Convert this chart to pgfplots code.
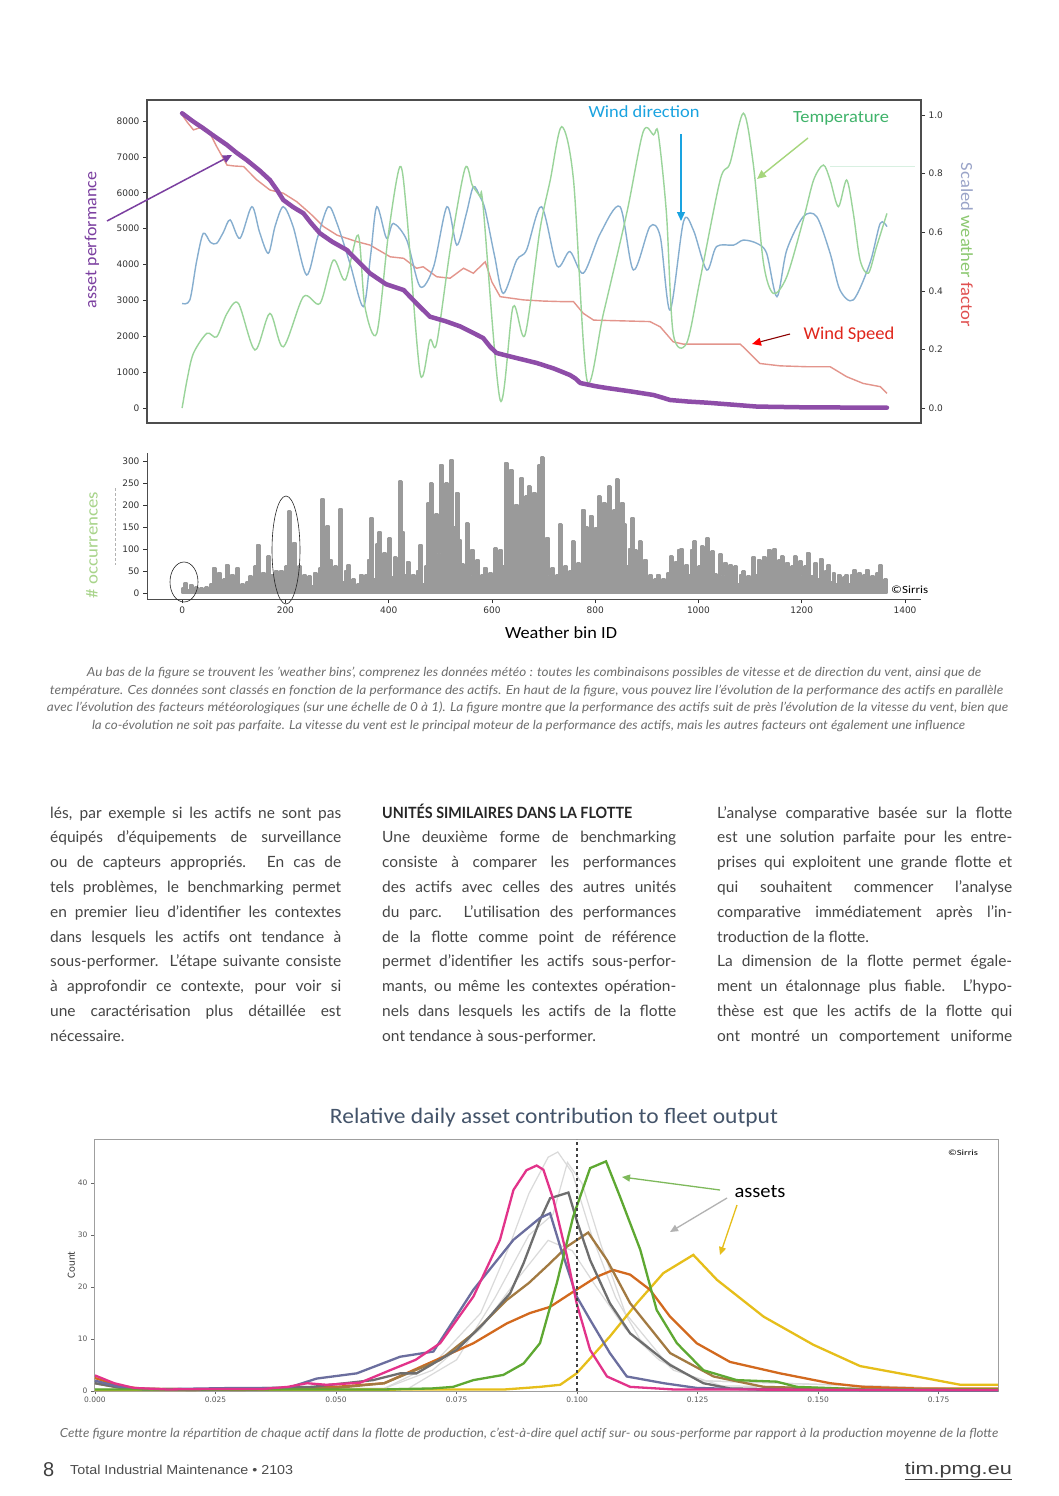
\documentclass[border=0pt]{standalone}
\usepackage{pgfplots}
\pgfplotsset{compat=1.18}
\usepackage{graphicx}
\usepackage{fontspec}
\usetikzlibrary{arrows.meta}
\setmainfont{Lato}
\newfontfamily\carlito{Carlito}
\newfontfamily\dejavu{DejaVu Sans}
\newfontfamily\libsans{Liberation Sans}
\definecolor{perf}{HTML}{8E4DA8}
\definecolor{perflab}{HTML}{7B3FA0}
\definecolor{histc}{HTML}{9A9A9A}
\definecolor{tickc}{HTML}{333333}
\definecolor{framec}{HTML}{4D4D4D}
\definecolor{windsp}{HTML}{E3958C}
\definecolor{winddir}{HTML}{86AECF}
\definecolor{temp}{HTML}{9AD49A}
\definecolor{wdlab}{HTML}{1AA3E0}
\definecolor{templab}{HTML}{3FB36A}
\definecolor{temparr}{HTML}{A6D67C}
\definecolor{wslab}{HTML}{E0261B}
\definecolor{scl}{HTML}{9AA4C8}
\definecolor{wel}{HTML}{8CC870}
\definecolor{fal}{HTML}{E05050}
\definecolor{occ}{HTML}{A8D48A}
\definecolor{bodyc}{HTML}{454545}
\definecolor{capc}{HTML}{6E6E6E}
\definecolor{titc}{HTML}{44546A}
\definecolor{cpink}{HTML}{E2338A}
\definecolor{cslate}{HTML}{6B6E9E}
\definecolor{cdgray}{HTML}{6E6E6E}
\definecolor{cbrown}{HTML}{A27A42}
\definecolor{corange}{HTML}{D2691E}
\definecolor{cgreen}{HTML}{5EA832}
\definecolor{cyellow}{HTML}{E6BE1A}
\definecolor{cfaint}{HTML}{DADADA}
\newcommand{\W}[2]{\resizebox{#1pt}{\height}{#2}}
\newsavebox\lb
\newcommand{\JL}[1]{\sbox\lb{#1}\ifdim\wd\lb>\hsize\hbox to\hsize{\resizebox{\hsize}{\height}{\usebox\lb}}\else\hbox to\hsize{#1}\fi}
\newcommand{\LL}[1]{\hbox{#1}}
\begin{document}
\begin{tikzpicture}
\useasboundingbox (0pt,0pt) rectangle (1058pt,-1496pt);
\fill[white] (0pt,0pt) rectangle (1058pt,-1496pt);

% ---------------- top chart: weather factors (right axis)
\begin{axis}[at={(147pt,-100pt)}, anchor=north west, scale only axis,
  width=774pt, height=323pt, xmin=-68, xmax=1431, ymin=-0.051, ymax=1.051,
  axis x line=none, axis y line*=right, xtick=\empty,
  ytick={0,0.2,0.4,0.6,0.8,1.0}, yticklabels={0.0,0.2,0.4,0.6,0.8,1.0},
  axis line style={-, draw=framec, line width=1.1pt},
  tick align=outside, major tick length=4pt, tick style={draw=tickc, line width=0.6pt},
  tick label style={font=\dejavu\fontsize{9pt}{10pt}\selectfont, color=tickc}]
\addplot[color=windsp, line width=1.4pt] coordinates {
(0,1.0)(10,0.975)(22,0.949)(41,0.96)(54,0.937)(67,0.892)(87,0.829)(100,0.826)(119,0.824)(145,0.778)(170,0.744)(196,0.733)(222,0.704)(248,0.664)(274,0.619)(300,0.590)(338,0.568)(364,0.556)(403,0.516)(429,0.511)(454,0.477)(467,0.482)(493,0.448)(519,0.443)(545,0.477)(564,0.460)(587,0.499)(600,0.43)(616,0.380)(661,0.369)(700,0.365)(739,0.363)(758,0.363)(777,0.323)(797,0.300)(906,0.295)(926,0.277)(951,0.226)(971,0.218)(1081,0.218)(1093,0.198)(1119,0.152)(1158,0.144)(1210,0.141)(1255,0.141)(1287,0.107)(1319,0.084)(1352,0.073)(1365,0.050)};
\addplot[color=winddir, line width=1.4pt, smooth] coordinates {
(0,0.357)(15,0.369)(28,0.50)(41,0.596)(55,0.565)(67,0.562)(80,0.60)(93,0.642)(112,0.579)(135,0.687)(150,0.60)(167,0.528)(180,0.62)(196,0.687)(215,0.619)(241,0.454)(262,0.58)(283,0.687)(300,0.630)(325,0.494)(351,0.346)(365,0.52)(377,0.687)(396,0.579)(409,0.630)(435,0.573)(461,0.414)(487,0.482)(513,0.687)(532,0.556)(550,0.66)(564,0.755)(577,0.721)(587,0.676)(605,0.52)(622,0.391)(648,0.505)(667,0.539)(696,0.687)(726,0.485)(751,0.534)(777,0.460)(810,0.596)(848,0.687)(874,0.471)(906,0.619)(926,0.585)(945,0.334)(971,0.636)(990,0.608)(1016,0.471)(1035,0.551)(1068,0.556)(1087,0.573)(1113,0.562)(1132,0.528)(1152,0.380)(1171,0.539)(1203,0.653)(1229,0.653)(1255,0.528)(1274,0.403)(1300,0.369)(1332,0.494)(1352,0.630)(1365,0.619)};
\addplot[color=temp, line width=1.4pt, smooth] coordinates {
(0,0.0)(10,0.10)(22,0.187)(48,0.255)(67,0.243)(87,0.323)(109,0.357)(141,0.198)(170,0.323)(196,0.209)(235,0.380)(267,0.357)(293,0.505)(316,0.437)(341,0.590)(354,0.346)(377,0.255)(400,0.60)(422,0.824)(435,0.664)(461,0.118)(480,0.232)(493,0.221)(520,0.55)(548,0.818)(562,0.76)(577,0.721)(583,0.687)(616,0.027)(641,0.346)(664,0.249)(693,0.608)(713,0.778)(735,0.960)(758,0.778)(784,0.096)(816,0.323)(861,0.664)(893,0.943)(913,0.932)(922,0.938)(938,0.664)(951,0.255)(977,0.221)(1003,0.437)(1042,0.778)(1061,0.835)(1087,1.006)(1106,0.835)(1126,0.494)(1145,0.391)(1171,0.448)(1203,0.642)(1223,0.778)(1242,0.829)(1255,0.778)(1271,0.687)(1287,0.778)(1300,0.664)(1313,0.505)(1329,0.460)(1345,0.551)(1365,0.664)};
\end{axis}

% ---------------- top chart: asset performance (left axis)
\begin{axis}[at={(147pt,-100pt)}, anchor=north west, scale only axis,
  width=774pt, height=323pt, xmin=-68, xmax=1431, ymin=-418, ymax=8585,
  xtick=\empty, ytick pos=left,
  ytick={0,1000,2000,3000,4000,5000,6000,7000,8000},
  yticklabels={0,1000,2000,3000,4000,5000,6000,7000,8000},
  axis line style={draw=framec, line width=1.1pt},
  tick align=outside, major tick length=4pt, tick style={draw=tickc, line width=0.6pt},
  tick label style={font=\dejavu\fontsize{9pt}{10pt}\selectfont, color=tickc}]
\addplot[color=perf, line width=4.5pt, line join=round, line cap=round] coordinates {
(0,8215)(20,8000)(41,7796)(60,7600)(87,7331)(105,7120)(125,6913)(150,6620)(170,6355)(185,6050)(196,5798)(215,5600)(235,5426)(250,5150)(267,4870)(290,4640)(319,4404)(340,4100)(364,3753)(395,3450)(429,3289)(455,2900)(480,2545)(510,2420)(538,2277)(560,2120)(583,1951)(597,1700)(609,1533)(640,1420)(687,1254)(720,1100)(751,920)(762,820)(771,697)(800,610)(822,558)(870,460)(913,362)(930,290)(945,223)(980,180)(1016,149)(1060,100)(1113,40)(1200,20)(1300,12)(1365,9)};
\end{axis}

% ---------------- histogram
\begin{axis}[at={(147pt,-453pt)}, anchor=north west, scale only axis,
  width=774pt, height=146pt, xmin=-68, xmax=1431, ymin=-14, ymax=318,
  axis x line*=bottom, axis y line*=left,
  axis line style={-, draw=framec, line width=1.0pt},
  xtick={0,200,400,600,800,1000,1200,1400},
  xticklabels={0,200,400,600,800,1000,1200,1400},
  ytick={0,50,100,150,200,250,300}, yticklabels={0,50,100,150,200,250,300},
  tick align=outside, major tick length=4pt, tick style={draw=tickc, line width=0.6pt},
  tick label style={font=\dejavu\fontsize{9pt}{10pt}\selectfont, color=tickc}]
\addplot[const plot, color=histc, fill=histc, line width=2.4pt, line join=round] coordinates {
(0,10)(5,22)(10,5)(15,18)(20,4)(25,12)(30,5)(35,10)(40,4)(45,12)
(50,5)(55,20)(60,56)(65,10)(70,45)(75,8)(80,30)(85,64)(90,10)(95,40)
(100,8)(105,56)(110,12)(115,20)(120,6)(125,25)(130,37)(135,10)(140,60)(145,109)
(150,15)(155,45)(160,20)(165,83)(170,40)(175,10)(180,50)(185,15)(190,50)(195,20)
(200,60)(205,185)(210,30)(215,113)(220,15)(225,60)(230,20)(235,40)(240,10)(245,37)
(250,15)(255,45)(260,10)(265,55)(270,213)(275,30)(280,152)(285,75)(290,25)(295,60)
(300,20)(305,190)(310,25)(315,50)(320,64)(325,10)(330,30)(335,8)(340,20)(345,41)
(350,10)(355,40)(360,75)(365,170)(370,30)(375,110)(380,139)(385,40)(390,90)(395,30)
(400,124)(405,35)(410,80)(415,30)(420,253)(425,139)(430,40)(435,70)(440,30)(445,40)
(450,15)(455,50)(460,109)(465,20)(470,60)(475,204)(480,249)(485,70)(490,178)(495,90)
(500,291)(505,120)(510,249)(515,160)(520,302)(525,150)(530,227)(535,120)(540,65)(545,30)
(550,158)(555,40)(560,98)(565,30)(570,75)(575,20)(580,40)(585,56)(590,15)(595,45)
(600,20)(605,101)(610,40)(615,98)(620,60)(625,295)(630,257)(635,280)(640,120)(645,200)
(650,150)(655,261)(660,140)(665,219)(670,242)(675,130)(680,227)(685,150)(690,291)(695,308)
(700,40)(705,125)(710,40)(715,56)(720,15)(725,40)(730,155)(735,30)(740,60)(745,20)
(750,50)(755,117)(760,30)(765,67)(770,20)(775,189)(780,150)(785,120)(790,175)(795,100)
(800,147)(805,219)(810,130)(815,204)(820,150)(825,242)(830,120)(835,187)(840,258)(845,150)
(850,204)(855,155)(860,60)(865,100)(870,170)(875,98)(880,50)(885,117)(890,40)(895,75)
(900,20)(905,40)(910,10)(915,30)(920,40)(925,10)(930,32)(935,15)(940,45)(945,83)
(950,30)(955,70)(960,98)(965,100)(970,30)(975,64)(980,40)(985,98)(990,117)(995,38)
(1000,60)(1005,105)(1010,40)(1015,124)(1020,60)(1025,94)(1030,43)(1035,30)(1040,87)(1045,40)
(1050,68)(1055,25)(1060,64)(1065,30)(1070,60)(1075,20)(1080,40)(1085,49)(1090,15)(1095,38)
(1100,30)(1105,81)(1110,40)(1115,75)(1120,34)(1125,81)(1130,50)(1135,98)(1140,60)(1145,100)
(1150,40)(1155,75)(1160,83)(1165,40)(1170,68)(1175,30)(1180,60)(1185,83)(1190,35)(1195,71)
(1200,40)(1205,60)(1210,90)(1215,38)(1220,38)(1225,68)(1230,30)(1235,77)(1240,35)(1245,50)
(1250,64)(1255,25)(1260,45)(1265,20)(1270,41)(1275,25)(1280,35)(1285,41)(1290,20)(1295,40)
(1300,52)(1305,25)(1310,45)(1315,30)(1320,40)(1325,52)(1330,25)(1335,38)(1340,30)(1345,45)
(1350,62)(1355,25)(1360,30)(1365,23)} \closedcycle;
\end{axis}

% ---------------- top chart annotations
\node[rotate=90, text=perflab, inner sep=0] at (92pt,-240pt) {\carlito\fontsize{17pt}{20pt}\selectfont\W{136}{asset performance}};
\node[rotate=-90, inner sep=0] at (967pt,-245pt) {\carlito\fontsize{17pt}{20pt}\selectfont\W{164}{\textcolor{scl}{Scaled} \textcolor{wel}{weather} \textcolor{fal}{factor}}};
\node[text=wdlab, inner sep=0] at (644pt,-112pt) {\carlito\fontsize{17pt}{20pt}\selectfont\W{111}{Wind direction}};
\node[text=templab, inner sep=0] at (841pt,-118pt) {\carlito\fontsize{17pt}{20pt}\selectfont\W{96}{Temperature}};
\node[text=wslab, inner sep=0] at (849pt,-335pt) {\carlito\fontsize{18pt}{20pt}\selectfont\W{91}{Wind Speed}};
\draw[perflab, line width=1.5pt, -{Triangle[length=9pt,width=8pt]}] (107pt,-221pt) -- (232pt,-155pt);
\draw[wdlab, line width=1.1pt, -{Triangle[length=9pt,width=8pt]}] (681pt,-134pt) -- (681pt,-221pt);
\draw[temparr, line width=1.4pt, -{Triangle[length=9pt,width=8pt]}] (808pt,-138pt) -- (757pt,-179pt);
\draw[red!55!black, line width=1.1pt, -{Triangle[length=9pt,width=8pt,color=red]}] (790pt,-334pt) -- (752pt,-344pt);
\draw[templab!20!white, line width=0.6pt] (830pt,-166pt) -- (915pt,-166pt);

% ---------------- histogram annotations
\draw[black!85, line width=0.6pt] (184pt,-582pt) ellipse (14pt and 20pt);
\draw[black!85, line width=0.6pt] (286pt,-550pt) ellipse (14pt and 54pt);
\draw[gray!60, densely dashed, line width=0.5pt] (115pt,-488pt) -- (115pt,-565pt);
\node[rotate=90, text=occ, inner sep=0] at (92pt,-545pt) {\carlito\fontsize{17pt}{20pt}\selectfont\W{106}{\# occurrences}};
\node[anchor=west, inner sep=0] at (891pt,-590pt) {\carlito\fontsize{11pt}{13pt}\selectfont\W{37}{©Sirris}};
\node[inner sep=0] at (561pt,-633pt) {\carlito\fontsize{17pt}{20pt}\selectfont\W{112}{Weather bin ID}};

% ---------------- captions
\begin{scope}[every node/.style={inner sep=0, anchor=base, text=capc, font=\itshape\fontsize{12.5pt}{14pt}\selectfont}]
\node at (534pt,-676pt) {\W{894}{Au bas de la figure se trouvent les 'weather bins', comprenez les données météo : toutes les combinaisons possibles de vitesse et de direction du vent, ainsi que de}};
\node at (526.5pt,-694pt) {\W{953}{température. Ces données sont classés en fonction de la performance des actifs. En haut de la figure, vous pouvez lire l'évolution de la performance des actifs en parallèle}};
\node at (527.5pt,-711pt) {\W{961}{avec l'évolution des facteurs météorologiques (sur une échelle de 0 à 1). La figure montre que la performance des actifs suit de près l'évolution de la vitesse du vent, bien que}};
\node at (528.5pt,-729pt) {\W{873}{la co-évolution ne soit pas parfaite. La vitesse du vent est le principal moteur de la performance des actifs, mais les autres facteurs ont également une influence}};
\node at (529pt,-1437pt) {\W{938}{Cette figure montre la répartition de chaque actif dans la flotte de production, c'est-à-dire quel actif sur- ou sous-performe par rapport à la production moyenne de la flotte}};
\end{scope}

% ---------------- body text columns
\node[anchor=base west, inner sep=0, text=bodyc] at (50pt,-818pt) {\vtop{\fontsize{15.5pt}{24.8pt}\selectfont\hsize=291pt\baselineskip=24.8pt
\JL{lés, par exemple si les actifs ne sont pas}
\JL{équipés d'équipements de surveillance}
\JL{ou de capteurs appropriés. En cas de}
\JL{tels problèmes, le benchmarking permet}
\JL{en premier lieu d'identifier les contextes}
\JL{dans lesquels les actifs ont tendance à}
\JL{sous-performer. L'étape suivante consiste}
\JL{à approfondir ce contexte, pour voir si}
\JL{une caractérisation plus détaillée est}
\LL{nécessaire.}}};

\node[anchor=base west, inner sep=0, text=bodyc] at (382pt,-818pt) {\vtop{\fontsize{15.5pt}{24.8pt}\selectfont\hsize=294pt\baselineskip=24.8pt
\LL{\color{black!85}\W{250}{\bfseries UNITÉS SIMILAIRES DANS LA FLOTTE}}
\JL{Une deuxième forme de benchmarking}
\JL{consiste à comparer les performances}
\JL{des actifs avec celles des autres unités}
\JL{du parc. L'utilisation des performances}
\JL{de la flotte comme point de référence}
\JL{permet d'identifier les actifs sous-perfor-}
\JL{mants, ou même les contextes opération-}
\JL{nels dans lesquels les actifs de la flotte}
\LL{ont tendance à sous-performer.}}};

\node[anchor=base west, inner sep=0, text=bodyc] at (717pt,-818pt) {\vtop{\fontsize{15.5pt}{24.8pt}\selectfont\hsize=295pt\baselineskip=24.8pt
\JL{L'analyse comparative basée sur la flotte}
\JL{est une solution parfaite pour les entre-}
\JL{prises qui exploitent une grande flotte et}
\JL{qui souhaitent commencer l'analyse}
\JL{comparative immédiatement après l'in-}
\LL{troduction de la flotte.}
\JL{La dimension de la flotte permet égale-}
\JL{ment un étalonnage plus fiable. L'hypo-}
\JL{thèse est que les actifs de la flotte qui}
\JL{ont montré un comportement uniforme}}};

% ---------------- bottom chart
\node[inner sep=0, text=titc] at (554pt,-1118pt) {\carlito\fontsize{22pt}{26pt}\selectfont\W{448}{Relative daily asset contribution to fleet output}};
\begin{axis}[at={(94pt,-1139pt)}, anchor=north west, scale only axis,
  width=904pt, height=252pt, xmin=-0.0002, xmax=0.1873, ymin=0, ymax=48.5,
  axis line style={draw=gray!75, line width=0.9pt},
  tick pos=left, tick align=outside, major tick length=3pt, tick style={draw=gray!80!black, line width=0.5pt},
  xtick={0,0.025,0.05,0.075,0.1,0.125,0.15,0.175},
  xticklabels={0.000,0.025,0.050,0.075,0.100,0.125,0.150,0.175},
  ytick={0,10,20,30,40}, yticklabels={0,10,20,30,40},
  tick label style={font=\dejavu\fontsize{7.5pt}{8.5pt}\selectfont, color=black!65},
  xticklabel style={yshift=1pt},
  ylabel={\carlito\fontsize{11pt}{12pt}\selectfont Count}, ylabel style={color=black!75, yshift=-4pt}]
\addplot[color=cfaint, line width=1.2pt] coordinates {(0,0.3)(0.06,0.5)(0.07,5)(0.08,15)(0.086,28)(0.09,38)(0.094,45)(0.096,46)(0.099,42)(0.103,30)(0.108,18)(0.113,10)(0.12,4)(0.13,1)(0.1873,0.2)};
\addplot[color=cfaint, line width=1.2pt] coordinates {(0,0.3)(0.065,0.5)(0.075,6)(0.083,18)(0.09,30)(0.095,34)(0.098,44)(0.101,40)(0.105,28)(0.11,15)(0.118,6)(0.125,2)(0.1873,0.2)};
\addplot[color=cfaint, line width=1.2pt] coordinates {(0,0.3)(0.06,0.5)(0.07,4)(0.08,12)(0.088,22)(0.094,29)(0.099,27)(0.104,20)(0.11,12)(0.117,6)(0.125,2)(0.1873,0.2)};
\addplot[color=cyellow, line width=2.3pt] coordinates {(0,0.2)(0.085,0.3)(0.0923,0.8)(0.0965,1.2)(0.0999,3.4)(0.1068,10.5)(0.1124,16.9)(0.1179,22.7)(0.1241,26.2)(0.129,21.4)(0.1387,14.3)(0.149,8.9)(0.1587,4.8)(0.1698,2.9)(0.1795,1.2)(0.1873,1.2)};
\addplot[color=corange, line width=2.3pt] coordinates {(0,2.5)(0.005,1.0)(0.01,0.4)(0.03,0.3)(0.05,0.8)(0.06,1.5)(0.0785,9.2)(0.0854,13.0)(0.0902,15.0)(0.0923,15.6)(0.0944,16.2)(0.0992,19.1)(0.1041,22.0)(0.1075,23.3)(0.111,22.4)(0.1151,19.5)(0.1193,14.3)(0.1248,9.2)(0.1317,5.6)(0.1421,3.4)(0.1525,1.5)(0.1594,0.8)(0.17,0.5)(0.1873,0.5)};
\addplot[color=cbrown, line width=2.3pt] coordinates {(0,1.5)(0.006,0.5)(0.03,0.2)(0.05,0.6)(0.06,1.5)(0.0716,6.0)(0.0785,11.1)(0.0854,17.5)(0.090,20.8)(0.0944,24.6)(0.0979,27.8)(0.1023,30.5)(0.1062,25.2)(0.111,16.9)(0.1193,7.3)(0.1283,2.8)(0.1387,0.8)(0.16,0.3)(0.1873,0.2)};
\addplot[color=cdgray, line width=2.3pt] coordinates {(0,1.5)(0.006,0.5)(0.02,0.2)(0.045,0.8)(0.0577,2.1)(0.0633,3.4)(0.0667,3.4)(0.075,7.9)(0.0806,13.0)(0.0861,18.8)(0.0889,24.6)(0.0923,32.9)(0.0944,37.1)(0.0982,38.2)(0.0999,32.9)(0.1027,25.2)(0.1068,16.9)(0.111,11.1)(0.1193,5.0)(0.1262,1.5)(0.1317,0.5)(0.15,0.2)(0.1873,0.1)};
\addplot[color=cslate, line width=2.3pt] coordinates {(0,2.0)(0.005,0.8)(0.01,0.3)(0.03,0.6)(0.04,0.6)(0.046,2.4)(0.0543,3.4)(0.0633,6.6)(0.0702,7.6)(0.0785,19.5)(0.0868,29.1)(0.0923,33.3)(0.0944,34.2)(0.0965,27.8)(0.0999,18.2)(0.1027,13.7)(0.1068,7.3)(0.1103,2.8)(0.118,1.5)(0.1248,0.6)(0.14,0.2)(0.1873,0.1)};
\addplot[color=cgreen, line width=2.3pt] coordinates {(0,0.3)(0.06,0.3)(0.07,0.5)(0.0743,0.8)(0.0785,2.1)(0.0847,3.1)(0.0889,5.3)(0.0923,9.2)(0.0958,20.8)(0.0992,33.6)(0.1027,42.9)(0.106,44.2)(0.1089,37.4)(0.1131,27.2)(0.1165,15.6)(0.1207,9.2)(0.1262,4.0)(0.1331,2.1)(0.1414,1.8)(0.1456,0.8)(0.16,0.3)(0.1873,0.3)};
\addplot[color=cpink, line width=2.3pt] coordinates {(0,3.0)(0.004,1.5)(0.008,0.6)(0.015,0.3)(0.025,0.4)(0.035,0.4)(0.040,0.8)(0.044,1.5)(0.048,1.2)(0.055,1.6)(0.0612,4.0)(0.0665,6)(0.0716,9.2)(0.0785,18.2)(0.084,29.1)(0.0868,38.7)(0.0895,42.5)(0.0916,43.4)(0.093,42.6)(0.0951,36.8)(0.0979,25.9)(0.0999,16.9)(0.1027,7.9)(0.1062,2.8)(0.111,0.8)(0.12,0.3)(0.1873,0.2)};
\addplot[color=black!75, dashed, line width=1.3pt] coordinates {(0.1,0)(0.1,48.5)};
\end{axis}
\node[inner sep=0] at (963pt,-1153pt) {\carlito\fontsize{8pt}{9pt}\selectfont\W{30}{©Sirris}};
\node[inner sep=0] at (760pt,-1192pt) {\carlito\fontsize{19pt}{22pt}\selectfont\W{51}{assets}};
\draw[cgreen!80!white, line width=1.3pt, -{Triangle[length=8pt,width=7pt]}] (720pt,-1190pt) -- (622pt,-1177pt);
\draw[gray!60, line width=1.3pt, -{Triangle[length=8pt,width=7pt]}] (727pt,-1198pt) -- (670pt,-1232pt);
\draw[cyellow, line width=1.3pt, -{Triangle[length=8pt,width=7pt]}] (737pt,-1205pt) -- (720pt,-1255pt);

% ---------------- footer
\node[anchor=base west, inner sep=0, text=black!75] at (43pt,-1476pt) {\libsans\fontsize{20pt}{22pt}\selectfont 8};
\node[anchor=base west, inner sep=0, text=black!70] at (70pt,-1474pt) {\libsans\fontsize{13pt}{15pt}\selectfont\W{223}{Total Industrial Maintenance • 2103}};
\node[anchor=base east, inner sep=0, text=black!75] at (1012pt,-1474pt) {\libsans\fontsize{17pt}{19pt}\selectfont\W{107}{\underline{tim.pmg.eu}}};
\end{tikzpicture}
\end{document}
